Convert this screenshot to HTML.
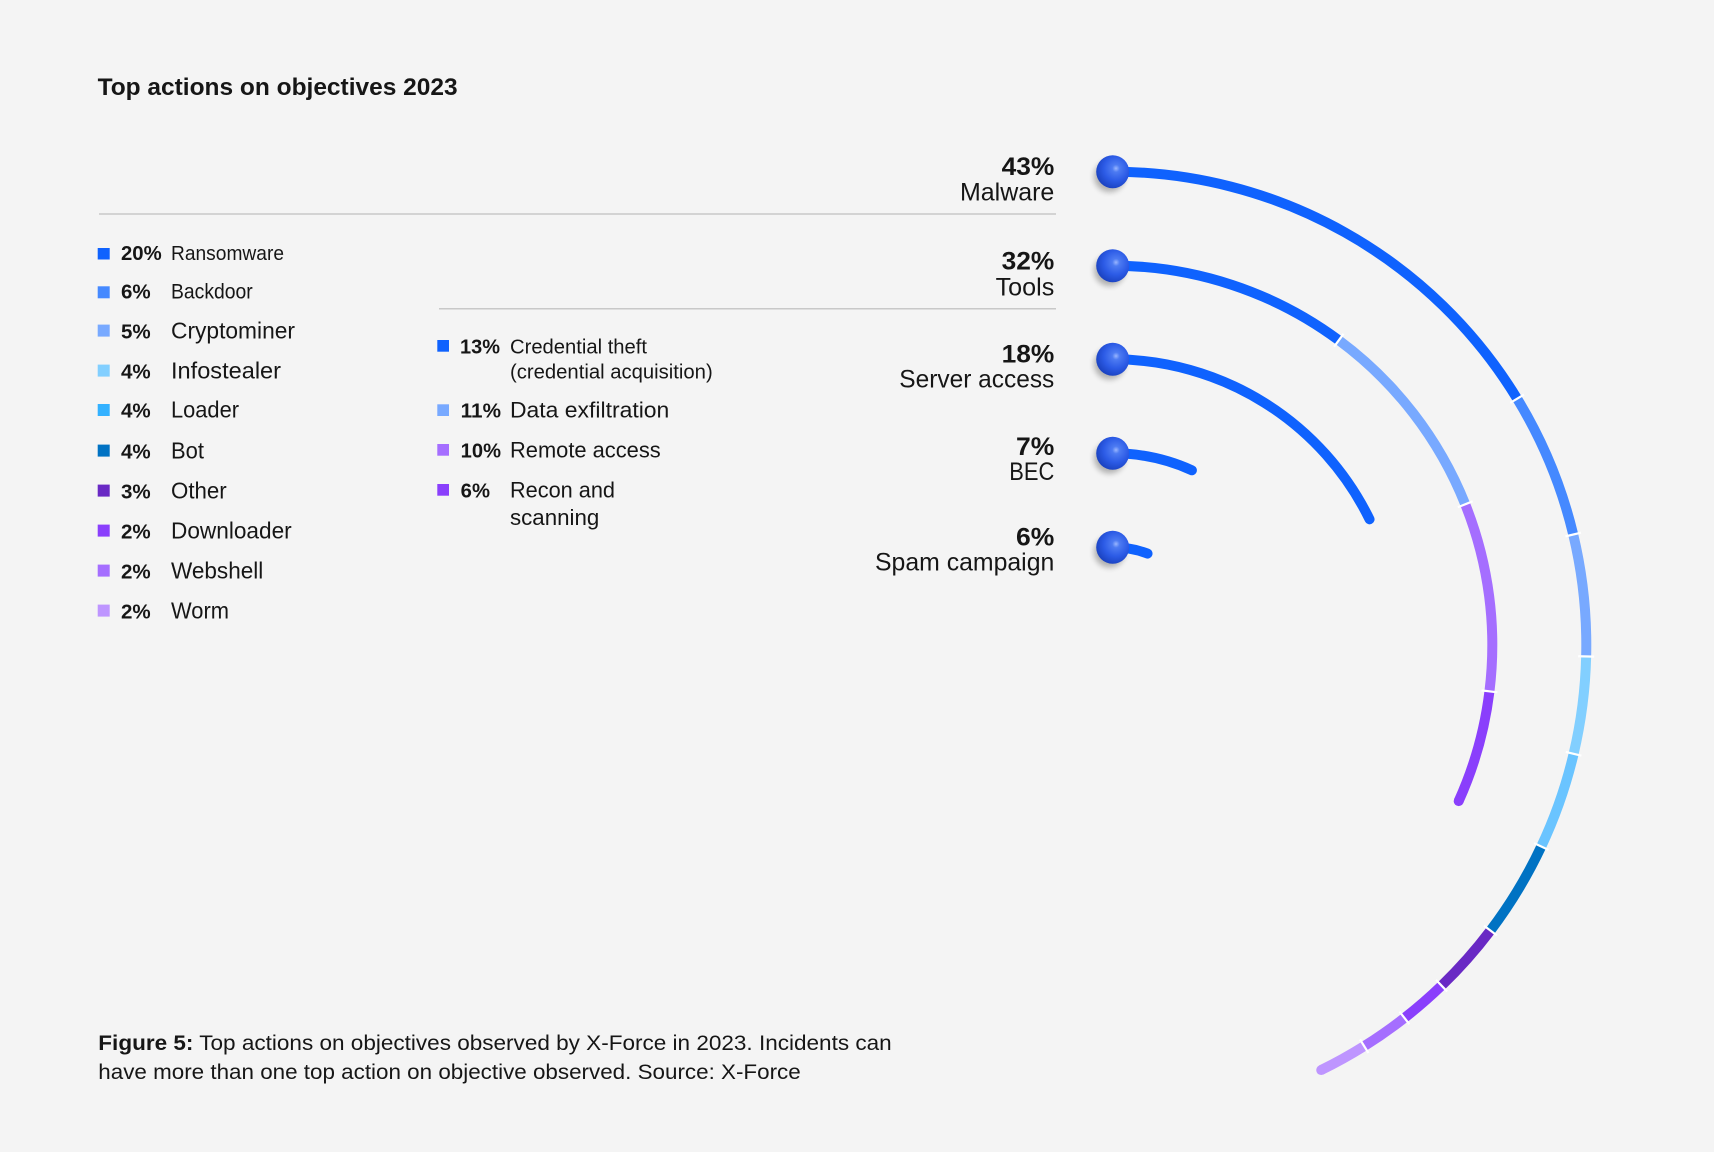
<!DOCTYPE html>
<html>
<head>
<meta charset="utf-8">
<style>
  html,body{margin:0;padding:0;background:#f4f4f4;}
  svg{display:block;}
  text{font-family:"Liberation Sans",Arial,sans-serif;fill:#161616;}
  .b{font-weight:bold;}
</style>
</head>
<body>
<svg width="1714" height="1152" viewBox="0 0 1714 1152" xmlns="http://www.w3.org/2000/svg">
  <defs>
    <radialGradient id="ball" cx="0.6" cy="0.4" r="0.62" fx="0.6" fy="0.4">
      <stop offset="0" stop-color="#9ab6ff"/>
      <stop offset="0.18" stop-color="#4d7bf2"/>
      <stop offset="0.6" stop-color="#2c5be6"/>
      <stop offset="1" stop-color="#1b43c2"/>
    </radialGradient>
    <filter id="blur" x="-50%" y="-50%" width="200%" height="200%">
      <feGaussianBlur stdDeviation="3"/>
    </filter>
  </defs>
  <rect width="1714" height="1152" fill="#f4f4f4"/>

  <!-- Title -->
  <text x="97.6" y="95" class="b" font-size="24" textLength="360" lengthAdjust="spacingAndGlyphs">Top actions on objectives 2023</text>

  <!-- divider lines -->
  <line x1="99" y1="214" x2="1056" y2="214" stroke="#c8c8c8" stroke-width="1.5"/>
  <line x1="439" y1="308.7" x2="1056" y2="308.7" stroke="#c8c8c8" stroke-width="1.5"/>

  <!-- Left legend -->
  <g>
    <rect x="97.7" y="248" width="12" height="11.5" fill="#0f62fe"/>
    <text x="121" y="260" class="b" font-size="20" textLength="40.7" lengthAdjust="spacingAndGlyphs">20%</text>
    <text x="171" y="260" font-size="20" textLength="113" lengthAdjust="spacingAndGlyphs">Ransomware</text>

    <rect x="97.7" y="286.3" width="12" height="12" fill="#4589ff"/>
    <text x="121" y="298.3" class="b" font-size="20" textLength="29.7" lengthAdjust="spacingAndGlyphs">6%</text>
    <text x="171" y="298.3" font-size="21" textLength="81.7" lengthAdjust="spacingAndGlyphs">Backdoor</text>

    <rect x="97.7" y="324.6" width="12" height="12" fill="#78a9ff"/>
    <text x="121" y="338.3" class="b" font-size="20" textLength="29.7" lengthAdjust="spacingAndGlyphs">5%</text>
    <text x="171" y="338.3" font-size="23" textLength="124" lengthAdjust="spacingAndGlyphs">Cryptominer</text>

    <rect x="97.7" y="364.6" width="12" height="12" fill="#82cfff"/>
    <text x="121" y="378.3" class="b" font-size="20" textLength="29.7" lengthAdjust="spacingAndGlyphs">4%</text>
    <text x="171" y="378.3" font-size="23" textLength="110" lengthAdjust="spacingAndGlyphs">Infostealer</text>

    <rect x="97.7" y="404" width="12" height="12" fill="#33b1ff"/>
    <text x="121" y="417.7" class="b" font-size="20" textLength="29.7" lengthAdjust="spacingAndGlyphs">4%</text>
    <text x="171" y="417.7" font-size="23" textLength="68" lengthAdjust="spacingAndGlyphs">Loader</text>

    <rect x="97.7" y="444.6" width="12" height="12" fill="#0072c3"/>
    <text x="121" y="458.3" class="b" font-size="20" textLength="29.7" lengthAdjust="spacingAndGlyphs">4%</text>
    <text x="171" y="458.3" font-size="23" textLength="33" lengthAdjust="spacingAndGlyphs">Bot</text>

    <rect x="97.7" y="484.6" width="12" height="12" fill="#6929c4"/>
    <text x="121" y="498.3" class="b" font-size="20" textLength="29.7" lengthAdjust="spacingAndGlyphs">3%</text>
    <text x="171" y="498.3" font-size="23" textLength="55.7" lengthAdjust="spacingAndGlyphs">Other</text>

    <rect x="97.7" y="524.6" width="12" height="12" fill="#8a3ffc"/>
    <text x="121" y="538.3" class="b" font-size="20" textLength="29.7" lengthAdjust="spacingAndGlyphs">2%</text>
    <text x="171" y="538.3" font-size="23" textLength="120.7" lengthAdjust="spacingAndGlyphs">Downloader</text>

    <rect x="97.7" y="564.6" width="12" height="12" fill="#a56eff"/>
    <text x="121" y="578.3" class="b" font-size="20" textLength="29.7" lengthAdjust="spacingAndGlyphs">2%</text>
    <text x="171" y="578.3" font-size="23" textLength="92.3" lengthAdjust="spacingAndGlyphs">Webshell</text>

    <rect x="97.7" y="604.6" width="12" height="12" fill="#be95ff"/>
    <text x="121" y="618.3" class="b" font-size="20" textLength="29.7" lengthAdjust="spacingAndGlyphs">2%</text>
    <text x="171" y="618.3" font-size="23" textLength="58" lengthAdjust="spacingAndGlyphs">Worm</text>
  </g>

  <!-- Middle legend -->
  <g>
    <rect x="437.3" y="340" width="11.7" height="11.7" fill="#0f62fe"/>
    <text x="460" y="353.3" class="b" font-size="20" textLength="40" lengthAdjust="spacingAndGlyphs">13%</text>
    <text x="510" y="353.3" font-size="20" textLength="137" lengthAdjust="spacingAndGlyphs">Credential theft</text>
    <text x="510" y="378.3" font-size="20" textLength="202.7" lengthAdjust="spacingAndGlyphs">(credential acquisition)</text>

    <rect x="437.3" y="404.3" width="11.7" height="11.7" fill="#78a9ff"/>
    <text x="460.7" y="417.7" class="b" font-size="20" textLength="40.3" lengthAdjust="spacingAndGlyphs">11%</text>
    <text x="510" y="417.7" font-size="22.5" textLength="159.3" lengthAdjust="spacingAndGlyphs">Data exfiltration</text>

    <rect x="437.3" y="444" width="11.7" height="11.7" fill="#a56eff"/>
    <text x="460.7" y="457.3" class="b" font-size="20" textLength="40.3" lengthAdjust="spacingAndGlyphs">10%</text>
    <text x="510" y="457.3" font-size="22.5" textLength="150.7" lengthAdjust="spacingAndGlyphs">Remote access</text>

    <rect x="437.3" y="484" width="11.7" height="11.7" fill="#8a3ffc"/>
    <text x="460.7" y="497.3" class="b" font-size="20" textLength="29.3" lengthAdjust="spacingAndGlyphs">6%</text>
    <text x="510" y="497.3" font-size="22.5" textLength="105" lengthAdjust="spacingAndGlyphs">Recon and</text>
    <text x="510" y="525" font-size="22.5" textLength="89.3" lengthAdjust="spacingAndGlyphs">scanning</text>
  </g>

  <!-- Right labels -->
  <g>
    <text x="1001.6" y="175" class="b" font-size="25" textLength="52.7" lengthAdjust="spacingAndGlyphs">43%</text>
    <text x="960" y="200.7" font-size="25" textLength="94.3" lengthAdjust="spacingAndGlyphs">Malware</text>

    <text x="1001.6" y="269.3" class="b" font-size="25" textLength="52.7" lengthAdjust="spacingAndGlyphs">32%</text>
    <text x="995.6" y="295.7" font-size="25" textLength="58.7" lengthAdjust="spacingAndGlyphs">Tools</text>

    <text x="1001.6" y="362.7" class="b" font-size="25" textLength="52.7" lengthAdjust="spacingAndGlyphs">18%</text>
    <text x="899.3" y="387.3" font-size="25" textLength="155" lengthAdjust="spacingAndGlyphs">Server access</text>

    <text x="1016" y="455" class="b" font-size="25" textLength="38.3" lengthAdjust="spacingAndGlyphs">7%</text>
    <text x="1009.3" y="480" font-size="25" textLength="45" lengthAdjust="spacingAndGlyphs">BEC</text>

    <text x="1016" y="545.7" class="b" font-size="25" textLength="38.3" lengthAdjust="spacingAndGlyphs">6%</text>
    <text x="875" y="570.5" font-size="25" textLength="179.3" lengthAdjust="spacingAndGlyphs">Spam campaign</text>
  </g>

  <!-- Ring 1: Malware (center 1113,645 R 473.3) -->
  <g fill="none" stroke-width="10" stroke-linecap="butt">
    <path d="M1113,171.7 A473.3,473.3 0 0 1 1517.15,398.67" stroke="#0f62fe"/>
    <path d="M1517.15,398.67 A473.3,473.3 0 0 1 1573.22,534.51" stroke="#4589ff"/>
    <path d="M1573.22,534.51 A473.3,473.3 0 0 1 1586.16,656.44" stroke="#78a9ff"/>
    <path d="M1586.16,656.44 A473.3,473.3 0 0 1 1573.62,753.82" stroke="#82cfff"/>
    <path d="M1573.62,753.82 A473.3,473.3 0 0 1 1541.26,846.52" stroke="#6ac4ff"/>
    <path d="M1541.26,846.52 A473.3,473.3 0 0 1 1490.46,930.56" stroke="#0072c3"/>
    <path d="M1490.46,930.56 A473.3,473.3 0 0 1 1441.56,985.68" stroke="#6929c4"/>
    <path d="M1441.56,985.68 A473.3,473.3 0 0 1 1404.44,1017.92" stroke="#8a3ffc"/>
    <path d="M1404.44,1017.92 A473.3,473.3 0 0 1 1364.19,1046.14" stroke="#a56eff"/>
    <path d="M1364.19,1046.14 A473.3,473.3 0 0 1 1321.22,1070.04" stroke="#be95ff"/>
  </g>
  <circle cx="1321.22" cy="1070.04" r="5" fill="#be95ff"/>

  <!-- Ring 2: Tools (R 379.3) -->
  <g fill="none" stroke-width="10" stroke-linecap="butt">
    <path d="M1113,265.7 A379.3,379.3 0 0 1 1338.83,340.26" stroke="#0f62fe"/>
    <path d="M1338.83,340.26 A379.3,379.3 0 0 1 1465.23,504.26" stroke="#78a9ff"/>
    <path d="M1465.23,504.26 A379.3,379.3 0 0 1 1489.45,691.36" stroke="#a56eff"/>
    <path d="M1489.45,691.36 A379.3,379.3 0 0 1 1458.69,801.09" stroke="#8a3ffc"/>
  </g>
  <circle cx="1458.69" cy="801.09" r="5" fill="#8a3ffc"/>

  <!-- Rings 3-5 -->
  <g fill="none" stroke-width="10" stroke-linecap="round" stroke="#0f62fe">
    <path d="M1113,359.3 A285.7,285.7 0 0 1 1369.57,519.31"/>
    <path d="M1113,453.3 A191.7,191.7 0 0 1 1191.89,470.28"/>
    <path d="M1113,547.3 A97.7,97.7 0 0 1 1147.53,553.61"/>
  </g>

  <!-- segment gaps -->
  <g stroke="#ffffff" stroke-width="2.2">
    <line x1="0" y1="-8" x2="0" y2="8" transform="translate(1517.15 398.67) rotate(58.64)"/>
    <line x1="0" y1="-8" x2="0" y2="8" transform="translate(1573.22 534.51) rotate(76.5)"/>
    <line x1="0" y1="-8" x2="0" y2="8" transform="translate(1586.16 656.44) rotate(91.39)"/>
    <line x1="0" y1="-8" x2="0" y2="8" transform="translate(1573.62 753.82) rotate(103.29)"/>
    <line x1="0" y1="-8" x2="0" y2="8" transform="translate(1541.26 846.52) rotate(115.2)"/>
    <line x1="0" y1="-8" x2="0" y2="8" transform="translate(1490.46 930.56) rotate(127.11)"/>
    <line x1="0" y1="-8" x2="0" y2="8" transform="translate(1441.56 985.68) rotate(136.04)"/>
    <line x1="0" y1="-8" x2="0" y2="8" transform="translate(1404.44 1017.92) rotate(141.99)"/>
    <line x1="0" y1="-8" x2="0" y2="8" transform="translate(1364.19 1046.14) rotate(147.95)"/>
    <line x1="0" y1="-8" x2="0" y2="8" transform="translate(1338.83 340.26) rotate(36.54)"/>
    <line x1="0" y1="-8" x2="0" y2="8" transform="translate(1465.23 504.26) rotate(68.22)"/>
    <line x1="0" y1="-8" x2="0" y2="8" transform="translate(1489.45 691.36) rotate(97.02)"/>
  </g>

  <!-- Ball shadows -->
  <g fill="#000" opacity="0.28" filter="url(#blur)">
    <circle cx="1109.5" cy="176.5" r="15.5"/>
    <circle cx="1109.5" cy="270.5" r="15.5"/>
    <circle cx="1109.5" cy="364" r="15.5"/>
    <circle cx="1109.5" cy="458" r="15.5"/>
    <circle cx="1109.5" cy="552" r="15.5"/>
  </g>
  <!-- Balls -->
  <g fill="url(#ball)">
    <circle cx="1112.7" cy="171.7" r="16.5"/>
    <circle cx="1112.7" cy="265.7" r="16.5"/>
    <circle cx="1112.7" cy="359.3" r="16.5"/>
    <circle cx="1112.7" cy="453.3" r="16.5"/>
    <circle cx="1112.7" cy="547.3" r="16.5"/>
  </g>

  <!-- Caption -->
  <text x="98.3" y="1050" font-size="21" textLength="793.4" lengthAdjust="spacingAndGlyphs"><tspan class="b">Figure 5:</tspan> Top actions on objectives observed by X-Force in 2023. Incidents can</text>
  <text x="98.3" y="1079" font-size="21" textLength="702.4" lengthAdjust="spacingAndGlyphs">have more than one top action on objective observed. Source: X-Force</text>
</svg>
</body>
</html>
